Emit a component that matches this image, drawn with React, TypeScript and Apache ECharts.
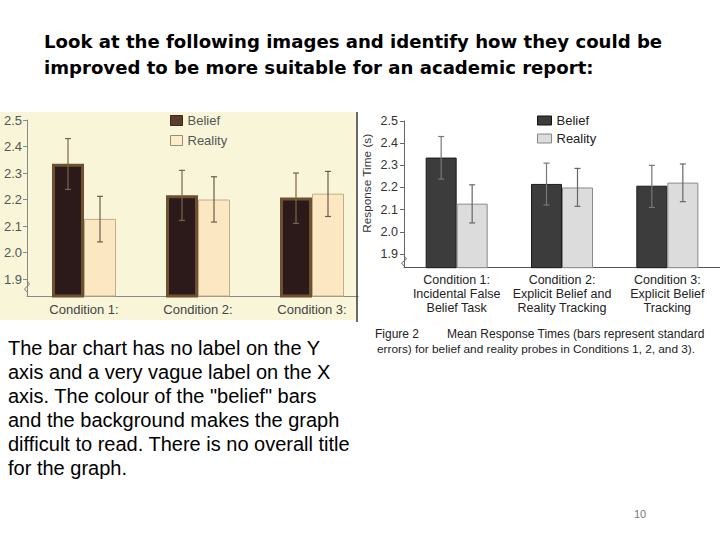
import React, { useEffect, useRef } from "react";
import * as echarts from "echarts";

const categoriesLeft = ["Condition 1:", "Condition 2:", "Condition 3:"];
const categoriesRight = [
  "Condition 1:\nIncidental False\nBelief Task",
  "Condition 2:\nExplicit Belief and\nReality Tracking",
  "Condition 3:\nExplicit Belief\nTracking",
];
const beliefMean = [2.335, 2.216, 2.208];
const realityMean = [2.127, 2.2, 2.222];
const beliefLow = [2.238, 2.121, 2.11];
const beliefHigh = [2.43, 2.31, 2.3];
const realityLow = [2.04, 2.115, 2.136];
const realityHigh = [2.212, 2.286, 2.306];
const yTicks = [1.9, 2.0, 2.1, 2.2, 2.3, 2.4, 2.5];

const titleLines = [
  "Look at the following images and identify how they could be",
  "improved to be more suitable for an academic report:",
];
const paragraphLines = [
  "The bar chart has no label on the Y",
  "axis and a very vague label on the X",
  'axis. The colour of the "belief" bars',
  "and the background makes the graph",
  "difficult to read. There is no overall title",
  "for the graph.",
];

function errorRender(offset: number, capW: number, color: string, lw: number) {
  return (params: any, api: any) => {
    const ci = api.value(0);
    const lo = api.coord([ci, api.value(1)]);
    const hi = api.coord([ci, api.value(2)]);
    const x = lo[0] + offset;
    const st = { stroke: color, lineWidth: lw };
    return {
      type: "group",
      children: [
        { type: "line", shape: { x1: x, y1: hi[1], x2: x, y2: lo[1] }, style: st },
        { type: "line", shape: { x1: x - capW, y1: hi[1], x2: x + capW, y2: hi[1] }, style: st },
        { type: "line", shape: { x1: x - capW, y1: lo[1], x2: x + capW, y2: lo[1] }, style: st },
      ],
    };
  };
}

export default function App() {
  const ref = useRef<HTMLDivElement>(null);
  useEffect(() => {
    if (!ref.current) return;
    const chart = echarts.init(ref.current, null, { renderer: "svg" });
    const sans = "'Liberation Sans', Arial, sans-serif";
    const errData = (lo: number[], hi: number[]) => lo.map((l, i) => [i, l, hi[i]]);

    const graphics: any[] = [
      { type: "rect", z: -10, shape: { x: 0, y: 112, width: 357, height: 208 }, style: { fill: "#f8f5d8" } },
      { type: "line", z: 50, shape: { x1: 357, y1: 112, x2: 357, y2: 322 }, style: { stroke: "#3a3a3a", lineWidth: 1.5 } },
      { type: "rect", z: 50, shape: { x: 358.5, y: 290, width: 14, height: 12 }, style: { fill: "#ffffff" } },
      { type: "polyline", z: 50, shape: { points: [[27, 281], [29.5, 284], [24.5, 289], [27, 292]] }, style: { stroke: "#777", fill: "none", lineWidth: 1 } },
      { type: "polyline", z: 50, shape: { points: [[404, 256], [406.5, 259], [401.5, 263], [404, 266]] }, style: { stroke: "#666", fill: "none", lineWidth: 1 } },
    ];
    titleLines.forEach((t, i) => {
      graphics.push({
        type: "text", x: 44, y: 41 + i * 26,
        style: { text: t, fontSize: 18.1, fontWeight: "bold", fontFamily: "'DejaVu Sans', sans-serif", fill: "#000", verticalAlign: "middle" },
      });
    });
    paragraphLines.forEach((t, i) => {
      graphics.push({
        type: "text", x: 8, y: 348 + i * 24,
        style: { text: t, fontSize: 20, fontFamily: sans, fill: "#000", verticalAlign: "middle" },
      });
    });
    graphics.push(
      { type: "text", x: 375, y: 334, style: { text: "Figure 2", fontSize: 12, fontFamily: sans, fill: "#222", verticalAlign: "middle" } },
      { type: "text", x: 447, y: 334, style: { text: "Mean Response Times (bars represent standard", fontSize: 12, fontFamily: sans, fill: "#222", verticalAlign: "middle" } },
      { type: "text", x: 377, y: 349, style: { text: "errors) for belief and reality probes in Conditions 1, 2, and 3).", fontSize: 11.8, fontFamily: sans, fill: "#222", verticalAlign: "middle" } },
      { type: "text", x: 640, y: 514, style: { text: "10", fontSize: 11, fontFamily: sans, fill: "#777", align: "center", verticalAlign: "middle" } }
    );

    chart.setOption({
      animation: false,
      backgroundColor: "#ffffff",
      textStyle: { fontFamily: sans },
      legend: [
        {
          orient: "vertical", left: 170, top: 114, padding: 0, itemWidth: 12, itemHeight: 10, itemGap: 7,
          textStyle: { fontSize: 13, color: "#555" }, selectedMode: false,
          data: [
            { name: "Belief", icon: "rect", itemStyle: { color: "#5a3e2b", borderColor: "#3b2a1c", borderWidth: 1 } },
            { name: "Reality", icon: "rect", itemStyle: { color: "#fbeccc", borderColor: "#9d8a6a", borderWidth: 1 } },
          ],
        },
        {
          orient: "vertical", left: 537, top: 114, padding: 0, itemWidth: 14, itemHeight: 9, itemGap: 5,
          textStyle: { fontSize: 13, color: "#222" }, selectedMode: false,
          data: [
            { name: "Belief", icon: "rect", itemStyle: { color: "#3c3c3c", borderColor: "#111", borderWidth: 1 } },
            { name: "Reality", icon: "rect", itemStyle: { color: "#dcdcdc", borderColor: "#888", borderWidth: 1 } },
          ],
        },
      ],
      grid: [
        { left: 27, top: 120, width: 342, height: 176 },
        { left: 404, top: 121, width: 327, height: 146.7 },
      ],
      xAxis: [
        {
          type: "category", gridIndex: 0, data: categoriesLeft,
          axisTick: { show: false },
          axisLine: { lineStyle: { color: "#888" } },
          axisLabel: { fontSize: 13, color: "#444", margin: 7, interval: 0 },
        },
        {
          type: "category", gridIndex: 1, data: categoriesRight,
          axisTick: { show: false },
          axisLine: { lineStyle: { color: "#555" } },
          axisLabel: { fontSize: 12.5, color: "#222", margin: 5, lineHeight: 14, interval: 0 },
        },
      ],
      yAxis: [
        {
          type: "value", gridIndex: 0, min: 1.836, max: 2.5,
          splitLine: { show: false },
          axisLine: { show: true, lineStyle: { color: "#888" } },
          axisTick: { show: true, length: 4, customValues: yTicks, lineStyle: { color: "#888" } },
          axisLabel: { fontSize: 13, color: "#555", margin: 5, customValues: yTicks, formatter: (v: number) => v.toFixed(1) },
        },
        {
          type: "value", gridIndex: 1, min: 1.838, max: 2.5,
          name: "Response Time (s)", nameLocation: "middle", nameGap: 31,
          nameTextStyle: { fontSize: 11.8, color: "#333", padding: [0, 0, 0, 22] },
          splitLine: { show: false },
          axisLine: { show: true, lineStyle: { color: "#666" } },
          axisTick: { show: true, length: 4, customValues: yTicks, lineStyle: { color: "#666" } },
          axisLabel: { fontSize: 12.5, color: "#333", margin: 6, customValues: yTicks, formatter: (v: number) => v.toFixed(1) },
        },
      ],
      series: [
        {
          name: "Belief", type: "bar", xAxisIndex: 0, yAxisIndex: 0, data: beliefMean,
          barWidth: 32, barGap: "0%",
          itemStyle: { color: "#2c1a1b", borderColor: "#6b5131", borderWidth: 3 },
        },
        {
          name: "Reality", type: "bar", xAxisIndex: 0, yAxisIndex: 0, data: realityMean,
          barWidth: 32, barGap: "0%",
          itemStyle: { color: "#fbe8c3", borderColor: "#c2ad85", borderWidth: 1 },
        },
        {
          name: "Belief", type: "bar", xAxisIndex: 1, yAxisIndex: 1, data: beliefMean,
          barWidth: 31, barGap: "0%",
          itemStyle: { color: "#3c3c3c", borderColor: "#1a1a1a", borderWidth: 1 },
        },
        {
          name: "Reality", type: "bar", xAxisIndex: 1, yAxisIndex: 1, data: realityMean,
          barWidth: 31, barGap: "0%",
          itemStyle: { color: "#dcdcdc", borderColor: "#8a8a8a", borderWidth: 1 },
        },
        {
          name: "Belief SE L", type: "custom", xAxisIndex: 0, yAxisIndex: 0, z: 5,
          data: errData(beliefLow, beliefHigh), encode: { x: 0, y: [1, 2] },
          renderItem: errorRender(-16, 3, "#7a6548", 1.2),
        },
        {
          name: "Reality SE L", type: "custom", xAxisIndex: 0, yAxisIndex: 0, z: 5,
          data: errData(realityLow, realityHigh), encode: { x: 0, y: [1, 2] },
          renderItem: errorRender(16, 3, "#6b5d4a", 1.2),
        },
        {
          name: "Belief SE R", type: "custom", xAxisIndex: 1, yAxisIndex: 1, z: 5,
          data: errData(beliefLow, beliefHigh), encode: { x: 0, y: [1, 2] },
          renderItem: errorRender(-15.5, 3, "#777", 1.2),
        },
        {
          name: "Reality SE R", type: "custom", xAxisIndex: 1, yAxisIndex: 1, z: 5,
          data: errData(realityLow, realityHigh), encode: { x: 0, y: [1, 2] },
          renderItem: errorRender(15.5, 3, "#666", 1.2),
        },
      ],
      graphic: graphics,
    });
    return () => chart.dispose();
  }, []);
  return (
    <div
      ref={ref}
      style={{ position: "absolute", left: 0, top: 0, width: 720, height: 540, background: "#fff" }}
    />
  );
}
